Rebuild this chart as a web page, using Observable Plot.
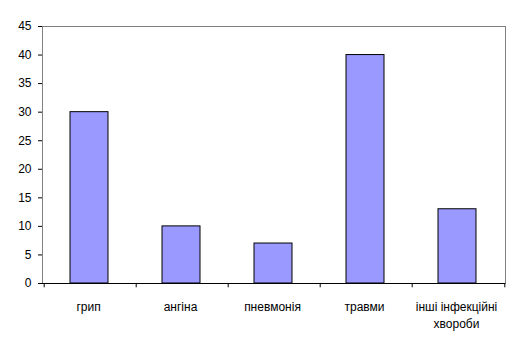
<!DOCTYPE html>
<html><head><meta charset="utf-8">
<script src="https://cdn.jsdelivr.net/npm/d3@7"></script>
<script src="https://cdn.jsdelivr.net/npm/@observablehq/plot@0.6"></script>
<style>body{margin:0;background:#fff;} svg{display:block;}</style>
</head><body><div id="chart"></div>
<script>
const categories = ["грип", "ангіна", "пневмонія", "травми", "інші інфекційні\nхвороби"];
const values = [30, 10, 7, 40, 13];
const yTicks = [0, 5, 10, 15, 20, 25, 30, 35, 40, 45];

const data = categories.map((c, i) => ({category: c, value: values[i]}));
const W = 518, H = 345, mL = 42, mR = 13, mT = 26, mB = 62;
const step = (W - mL - mR) / categories.length;

const chart = Plot.plot({
  width: W, height: H,
  marginLeft: mL, marginRight: mR, marginTop: mT, marginBottom: mB,
  style: {fontFamily: "Liberation Sans, Arial, sans-serif", fontSize: "12px", color: "#000", background: "#fff"},
  x: {type: "band", domain: categories, paddingInner: 0.59, paddingOuter: 0.295, align: 0.5},
  y: {domain: [0, 45]},
  marks: [
    Plot.frame({stroke: "#808080", strokeWidth: 1}),
    Plot.barY(data, {x: "category", y: "value", fill: "#9999ff", stroke: "#000", strokeWidth: 1, dx: -1}),
    Plot.axisY({ticks: yTicks, tickSize: 4, tickPadding: 7, label: null, fontSize: 12, stroke: "#000"}),
    Plot.ruleX([0], {stroke: "#000"}),
    Plot.ruleY([0], {stroke: "#000"}),
    Plot.axisX({ticks: [], label: null}),
    Plot.text(data, {x: "category", y: 0, text: "category", lineAnchor: "top", dy: 15, dx: -2, lineHeight: 1.42, fontSize: 12, fill: "#000"}),
    Plot.ruleX(categories, {x: d => d, y1: 0, y2: -0.75, dx: -step / 2, stroke: "#000"}),
    Plot.ruleX([categories[categories.length - 1]], {x: d => d, y1: 0, y2: -0.75, dx: step / 2, stroke: "#000"})
  ]
});
document.getElementById("chart").append(chart);
</script></body></html>
